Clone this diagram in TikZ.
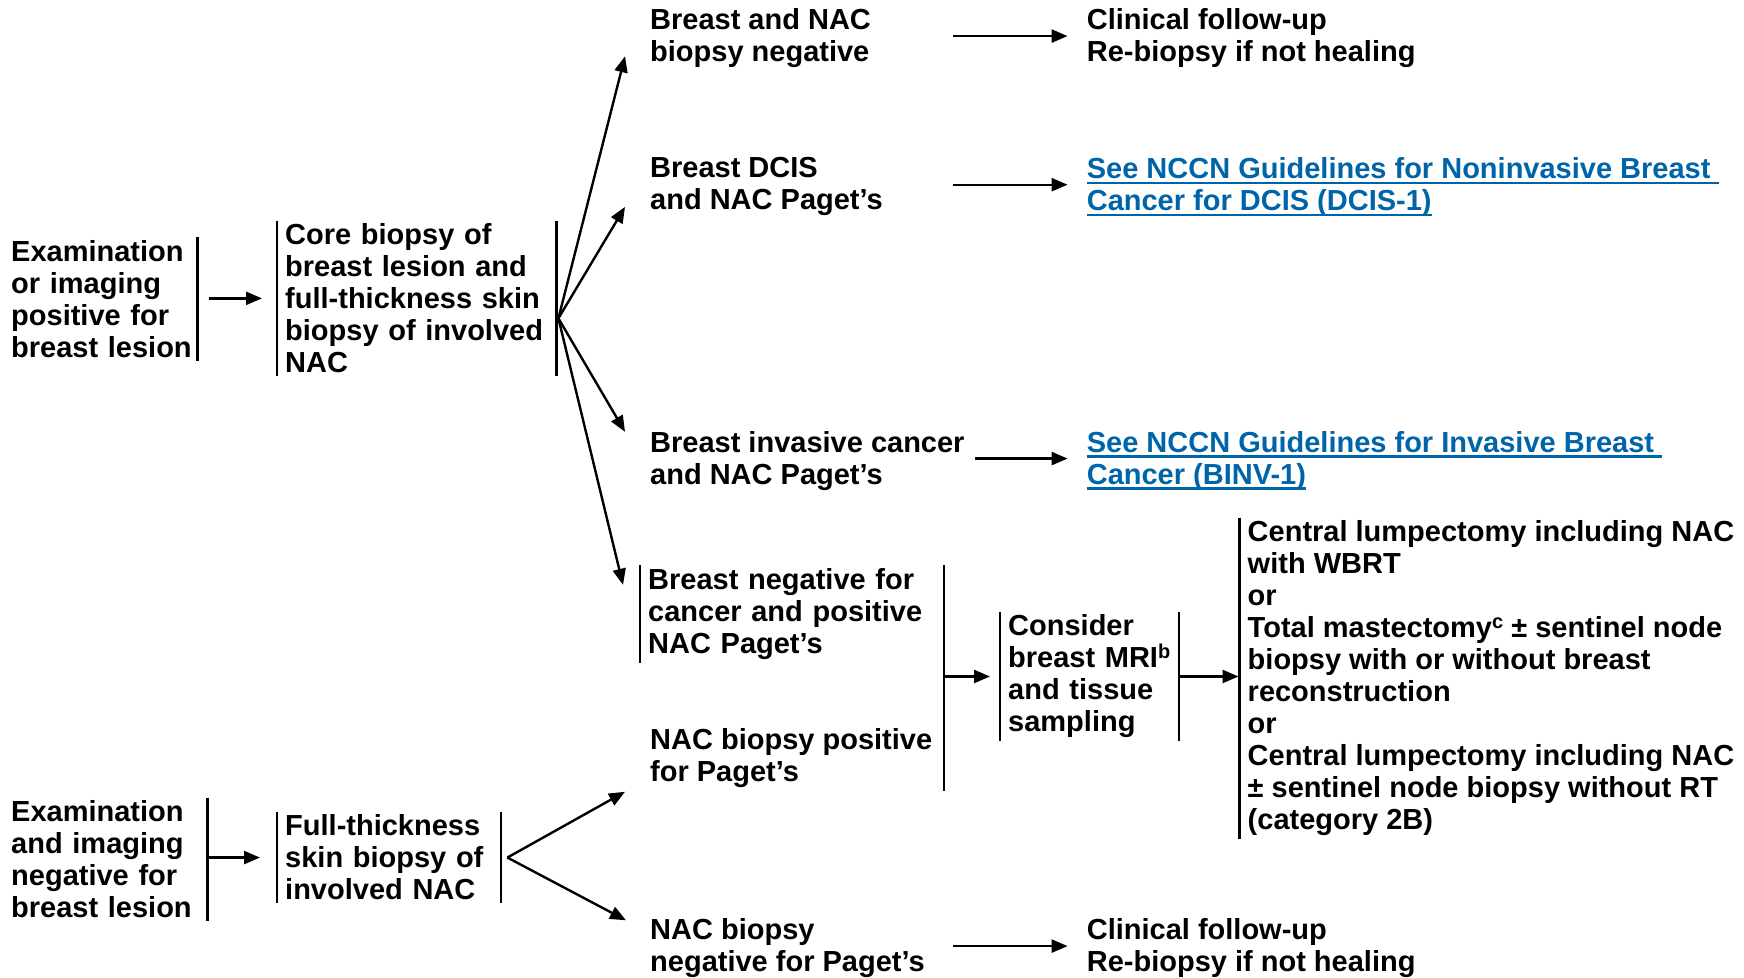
\documentclass[tikz,border=0pt]{standalone}
\usepackage{fontspec}
\setmainfont{Liberation Sans}
\usepackage{tikz}
\usetikzlibrary{arrows.meta}
\definecolor{linkblue}{RGB}{0,101,168}
\newsavebox{\lnkbox}
\newcommand{\lnk}[1]{\sbox{\lnkbox}{#1}\rlap{\rule[-5.4pt]{\wd\lnkbox}{2.4pt}}\usebox{\lnkbox}}
\newcommand{\sups}[1]{\raisebox{9pt}{\fontsize{20}{20}\selectfont #1}}

\begin{document}
\begin{tikzpicture}[x=1pt,y=-1pt,txt/.style={font=\fontsize{29}{32}\selectfont\bfseries,align=left,anchor=north west,inner xsep=8pt,inner ysep=3pt},bar/.style={line width=2.4pt},lbar/.style={append after command={(\tikzlastnode.north west) edge[bar] (\tikzlastnode.south west)}},rbar/.style={append after command={(\tikzlastnode.north east) edge[bar] (\tikzlastnode.south east)}},arr/.style={line width=2.4pt,-{Triangle[length=16pt,width=13pt]}},lnktxt/.style={txt,text=linkblue}]
\useasboundingbox (0,0) rectangle (1744,977);
% left column
\node[txt,inner xsep=5pt,text width=181pt,rbar] (exampos) at (6,237)
   {Examination\\or imaging\\positive for\\breast~lesion};
\node[txt,text width=263pt,lbar,rbar] (core) at (277,220.5)
   {Core biopsy of\\breast lesion and\\full-thickness skin\\biopsy of involved\\NAC};
\node[txt,inner xsep=5pt,text width=191pt,rbar] (examneg) at (6,797.7)
   {Examination\\and imaging\\negative for\\breast lesion};
\node[txt,text width=207.5pt,lbar,rbar] (fullthick) at (277,811.7)
   {Full-thickness\\skin biopsy of\\involved NAC};
% results
\node[txt] (bnac) at (642,5.5) {Breast and NAC\\biopsy negative};
\node[txt] (dcis) at (642,154.5) {Breast DCIS\\and NAC Paget's};
\node[txt] (inv) at (642,428) {Breast invasive cancer\\and NAC Paget's};
\node[txt,text width=287.5pt,lbar] (negcan) at (640,565)
   {Breast negative for\\cancer and positive\\NAC Paget's};
\node[txt] (nacpos) at (642,725) {NAC biopsy positive\\for Paget's};
\node[txt] (nacneg) at (642,915.5) {NAC biopsy\\negative for Paget's};
% treatment
\node[txt] (follow1) at (1078.6,5.5) {Clinical follow-up\\Re-biopsy if not healing};
\node[lnktxt] (link1) at (1078.6,154.5)
   {\lnk{See NCCN Guidelines for Noninvasive Breast\ }\\\lnk{Cancer for DCIS (DCIS-1)}};
\node[lnktxt] (link2) at (1078.6,428)
   {\lnk{See NCCN Guidelines for Invasive Breast\ }\\\lnk{Cancer (BINV-1)}};
\node[txt,text width=162.3pt,lbar,rbar] (mri) at (1000,611.7)
   {Consider\\breast~MRI\sups{b}\\and tissue\\sampling};
\node[txt,lbar] (rx) at (1239.5,517.5)
   {Central lumpectomy including NAC\\with WBRT\\or\\Total mastectomy\sups{c} ± sentinel node\\biopsy with or without breast\\reconstruction\\or\\Central lumpectomy including NAC\\± sentinel node biopsy without RT\\(category 2B)};
\node[txt] (follow2) at (1078.6,915.5) {Clinical follow-up\\Re-biopsy if not healing};
% connectors
\coordinate (gap) at (953,0);
\coordinate (fan1) at ([shift={(2,20)}]core.east);
\coordinate (fan2) at ([shift={(6.5,0)}]fullthick.east);
\draw[arr,shorten <=12pt,shorten >=15pt] (exampos.east |- core.west) -- (core.west);
\draw[arr,shorten >=17pt] (examneg.east |- fullthick.west) -- (fullthick.west);
\foreach \n/\dx/\dy in %
{bnac/-17/18,dcis/-17/20,inv/-17/-29,negcan/-17/-29} {
   \draw[arr] (fan1) -- ([shift={(\dx,\dy)}]\n.west);
}
\foreach \n/\dx/\dy in %
{nacpos/-17/34,nacneg/-16/-28} {
   \draw[arr] (fan2) -- ([shift={(\dx,\dy)}]\n.west);
}
\foreach \a/\b in %
{bnac/follow1,dcis/link1,nacneg/follow2} {
   \draw[arr,transform canvas={yshift=2.2pt},shorten >=11pt] (\a.east -| gap) -- (\a.east -| \b.west);
}
\draw[arr,transform canvas={yshift=2.2pt},shorten <=2pt,shorten >=11pt] (inv.east) -- (inv.east -| link2.west);
\draw[bar] (negcan.north east) -- (negcan.east |- nacpos.south);
\draw[arr,shorten >=10pt] (negcan.east |- mri.west) -- (mri.west);
\draw[arr,shorten >=1pt] (mri.east) -- (mri.east -| rx.west);
\end{tikzpicture}
\end{document}
